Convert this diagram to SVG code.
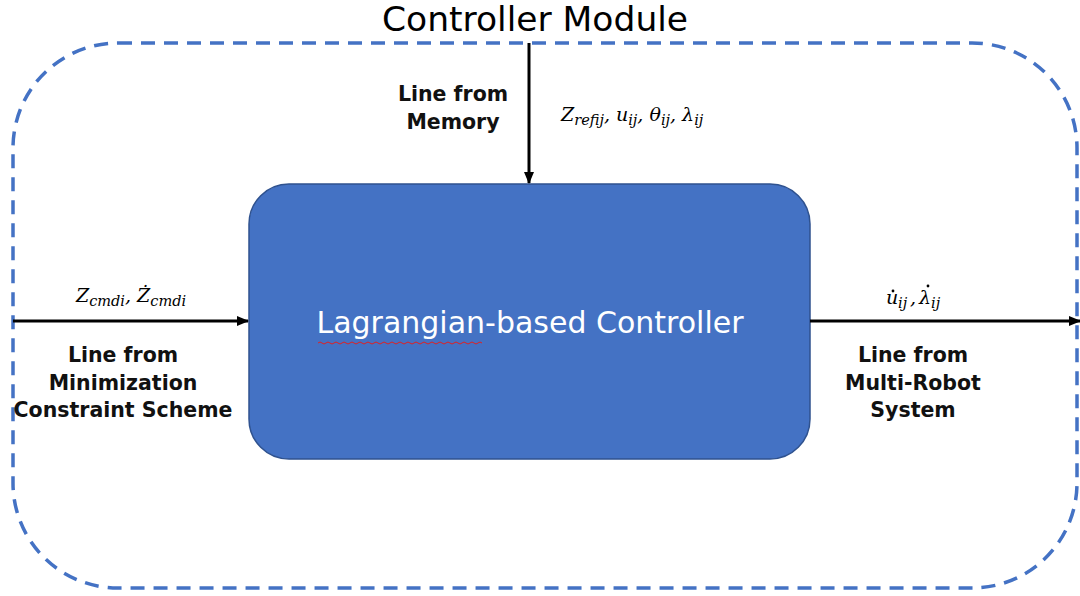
<svg xmlns="http://www.w3.org/2000/svg" width="1080" height="596" viewBox="0 0 1080 596">
<defs>
<marker id="ah" markerWidth="12" markerHeight="11" refX="11" refY="5.5" orient="auto" markerUnits="userSpaceOnUse">
<path d="M0,0.5 L12,5.5 L0,10.5 Z" fill="#000"/>
</marker>
<style>
.lbl{font-family:"DejaVu Sans","Noto Sans",sans-serif;font-weight:bold;font-size:20.5px;fill:#111;text-anchor:middle}
.math{font-family:"DejaVu Serif","Liberation Serif",serif;font-style:italic;font-size:19px;fill:#000}
.sub{font-size:14.5px}
.conn{stroke:#000;stroke-width:3;fill:none}
</style>
</defs>
<rect width="1080" height="596" fill="#fff"/>
<g id="module">
<rect x="13" y="43" width="1064" height="545" rx="105" ry="105" fill="none" stroke="#4472C4" stroke-width="3.5" stroke-dasharray="14,9"/>
<text x="535" y="31" font-family="'DejaVu Sans','Noto Sans',sans-serif" font-size="34.5" fill="#000" text-anchor="middle">Controller Module</text>
</g>
<g id="controller">
<rect x="249" y="184" width="561" height="275" rx="40" ry="40" fill="#4472C4" stroke="#2F528F" stroke-width="1.5"/>
<text x="530" y="333" font-family="'DejaVu Sans','Noto Sans',sans-serif" font-size="30" fill="#fff" text-anchor="middle">Lagrangian-based Controller</text>
<path d="M318,343 q2,-2 4,0 t4,0 t4,0 t4,0 t4,0 t4,0 t4,0 t4,0 t4,0 t4,0 t4,0 t4,0 t4,0 t4,0 t4,0 t4,0 t4,0 t4,0 t4,0 t4,0 t4,0 t4,0 t4,0 t4,0 t4,0 t4,0 t4,0 t4,0 t4,0 t4,0 t4,0 t4,0 t4,0 t4,0 t4,0 t4,0 t4,0 t4,0 t4,0 t4,0 t4,0" fill="none" stroke="#E02020" stroke-width="1"/>
</g>
<g id="connectors">
<line class="conn" x1="529" y1="43" x2="529" y2="183" marker-end="url(#ah)"/>
<line class="conn" x1="13" y1="321" x2="248" y2="321" marker-end="url(#ah)"/>
<line class="conn" x1="810" y1="321" x2="1080" y2="321" marker-end="url(#ah)"/>
</g>
<g id="memory-label">
<text class="lbl" x="453" y="101">Line from</text>
<text class="lbl" x="453" y="129">Memory</text>
<text class="math" x="561" y="121">Z<tspan class="sub" dy="4">refij</tspan><tspan dy="-4">, u</tspan><tspan class="sub" dy="4">ij</tspan><tspan dy="-4">, θ</tspan><tspan class="sub" dy="4">ij</tspan><tspan dy="-4">, λ</tspan><tspan class="sub" dy="4">ij</tspan></text>
</g>
<g id="left-label">
<text class="math" x="76" y="302">Z<tspan class="sub" dy="4">cmdi</tspan><tspan dy="-4">, Ż</tspan><tspan class="sub" dy="4">cmdi</tspan></text>
<text class="lbl" x="123" y="362">Line from</text>
<text class="lbl" x="123" y="390">Minimization</text>
<text class="lbl" x="123" y="417">Constraint Scheme</text>
</g>
<g id="right-label">
<text class="math" x="886" y="304">u<tspan class="sub" x="898" dy="4">ij</tspan><tspan x="910" dy="-4">,</tspan><tspan x="919">λ</tspan><tspan class="sub" x="931" dy="4">ij</tspan></text>
<circle cx="893" cy="291" r="1.4" fill="#000"/>
<circle cx="928" cy="286" r="1.4" fill="#000"/>
<text class="lbl" x="913" y="362">Line from</text>
<text class="lbl" x="913" y="390">Multi-Robot</text>
<text class="lbl" x="913" y="417">System</text>
</g>
</svg>
